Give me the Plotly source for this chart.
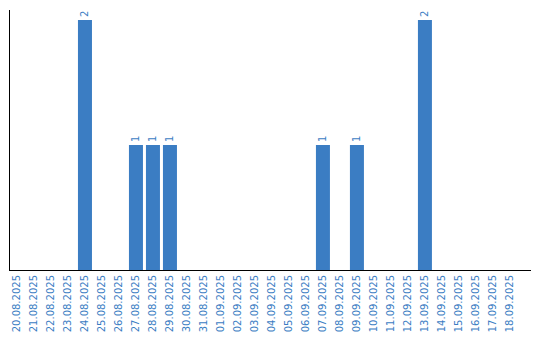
import plotly.graph_objects as go

dates = ["20.08.2025", "21.08.2025", "22.08.2025", "23.08.2025", "24.08.2025",
         "25.08.2025", "26.08.2025", "27.08.2025", "28.08.2025", "29.08.2025",
         "30.08.2025", "31.08.2025", "01.09.2025", "02.09.2025", "03.09.2025",
         "04.09.2025", "05.09.2025", "06.09.2025", "07.09.2025", "08.09.2025",
         "09.09.2025", "10.09.2025", "11.09.2025", "12.09.2025", "13.09.2025",
         "14.09.2025", "15.09.2025", "16.09.2025", "17.09.2025", "18.09.2025"]
counts = [0, 0, 0, 0, 2,
          0, 0, 1, 1, 1,
          0, 0, 0, 0, 0,
          0, 0, 0, 1, 0,
          1, 0, 0, 0, 2,
          0, 0, 0, 0, 0]

blue = "#3b7dc3"
labels = [str(c) if c > 0 else "" for c in counts]

fig = go.Figure(go.Bar(
    x=dates, y=counts, marker=dict(color=blue, line=dict(width=0)),
    text=labels, textposition="outside", textangle=-90,
    textfont=dict(family="DejaVu Sans", size=10, color=blue),
    cliponaxis=False, hoverinfo="skip",
))

fig.update_layout(
    width=540, height=340,
    margin=dict(l=10, r=9, t=10, b=70),
    paper_bgcolor="white", plot_bgcolor="white",
    bargap=0.176, showlegend=False,
    xaxis=dict(type="category", range=[-0.41, 30.24], tickangle=-90,
               showline=True, linecolor="black", linewidth=1,
               showgrid=False, zeroline=False, ticks="",
               tickfont=dict(family="DejaVu Sans", size=10, color=blue)),
    yaxis=dict(range=[0, 2.08], showline=True, linecolor="black", linewidth=1,
               showgrid=False, zeroline=False, showticklabels=False, ticks=""),
)

fig.write_html("out.html")
